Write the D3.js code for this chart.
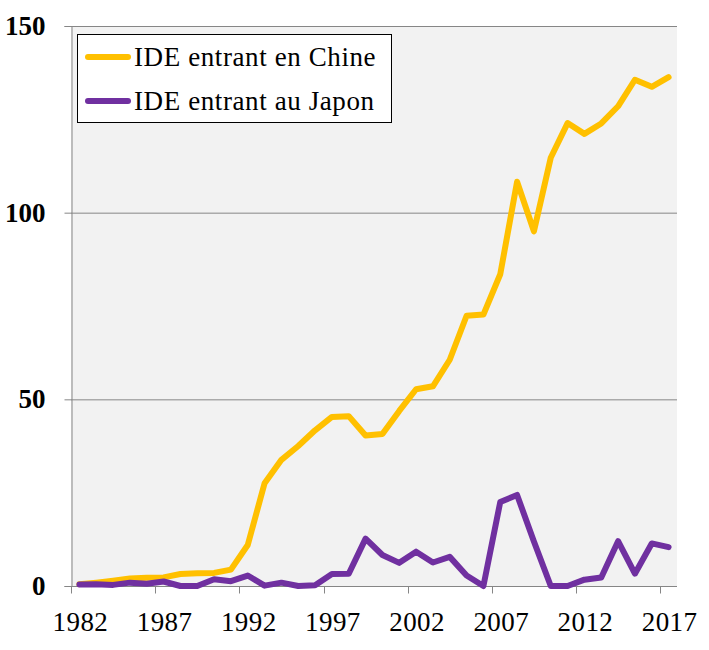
<!DOCTYPE html>
<html><head><meta charset="utf-8">
<script src="https://cdn.jsdelivr.net/npm/d3@7"></script>
<style>body{margin:0;background:#fff}svg{display:block}</style>
</head><body>
<script>
const years = d3.range(1982, 2018);
const chinaValues = [0.5,0.9,1.4,2.0,2.2,2.3,3.2,3.4,3.5,4.4,11.0,27.5,33.8,37.5,41.7,45.3,45.5,40.3,40.7,46.9,52.7,53.5,60.6,72.4,72.7,83.5,108.3,95.0,114.7,124.0,121.1,123.9,128.5,135.6,133.7,136.3];
const japanValues = [0.4,0.5,0.3,0.9,0.6,1.2,0.0,0.0,1.8,1.3,2.8,0.1,0.9,0.0,0.2,3.2,3.3,12.7,8.3,6.2,9.2,6.3,7.8,2.8,0.0,22.5,24.4,11.9,0.0,0.0,1.7,2.3,12.0,3.3,11.4,10.4];
const yTicks = [0,50,100,150];
const xTickLabels = [1982,1987,1992,1997,2002,2007,2012,2017];
const seriesNames = ["IDE entrant en Chine","IDE entrant au Japon"];
const seriesColors = ["#FFC000","#7030A0"];

const W=709,H=650;
const L=71,R=677,T=26,B=586;
const svg=d3.select("body").append("svg").attr("width",W).attr("height",H);
const font="Liberation Serif";

const x=d3.scaleBand().domain(years).range([L,R]).paddingInner(0).paddingOuter(0);
const y=d3.scaleLinear().domain([0,150]).range([B,T]);

svg.append("rect").attr("x",L).attr("y",T).attr("width",R-L).attr("height",B-T).attr("fill","#f2f2f2");

// gridlines
svg.append("g").selectAll("line").data(yTicks.filter(d=>d>0)).join("line")
  .attr("x1",L).attr("x2",R).attr("y1",d=>y(d)+0.5).attr("y2",d=>y(d)+0.5).attr("stroke","#868686").attr("stroke-width",1);

// y axis
const yAxis=svg.append("g").attr("transform",`translate(${L+0.5},0)`)
  .call(d3.axisLeft(y).tickValues(yTicks).tickSize(7).tickPadding(19).tickFormat(d3.format("d")));
yAxis.attr("font-family",null).attr("font-size",null);
yAxis.select(".domain").attr("stroke","#868686");
yAxis.selectAll(".tick line").attr("stroke","#868686");
yAxis.selectAll(".tick text").style("font-family",font).style("font-size","27px").style("font-weight","bold").attr("fill","#000");

// x axis
const xb=svg.append("g").attr("transform",`translate(0,${B+0.5})`);
xb.append("line").attr("x1",L).attr("x2",R).attr("stroke","#868686");
const tickYears=years.filter((d,i)=>i%5===0);
xb.selectAll("line.t").data(tickYears.concat([null])).join("line").attr("class","t")
  .attr("x1",(d,i)=>Math.round(L+i*5*x.bandwidth())+0.5).attr("x2",(d,i)=>Math.round(L+i*5*x.bandwidth())+0.5)
  .attr("y1",0).attr("y2",7).attr("stroke","#868686");
xb.selectAll("text").data(xTickLabels).join("text")
  .attr("x",d=>x(d)+x.bandwidth()/2+1).attr("y",44).attr("text-anchor","middle")
  .style("font-family",font).style("font-size","27px").style("letter-spacing","0.4px").attr("fill","#000").text(d=>d);

// lines
const line=d3.line().x((d,i)=>x(years[i])+x.bandwidth()/2).y(d=>y(d));
[chinaValues,japanValues].forEach((vals,k)=>{
  svg.append("path").datum(vals).attr("d",line).attr("fill","none")
    .attr("stroke",seriesColors[k]).attr("stroke-width",6)
    .attr("stroke-linejoin","round").attr("stroke-linecap","round");
});

// legend
const lg=svg.append("g");
lg.append("rect").attr("x",77.5).attr("y",34.5).attr("width",314).attr("height",88)
  .attr("fill","#fff").attr("stroke","#000").attr("stroke-width",1);
seriesNames.forEach((n,k)=>{
  const cy=57+k*44;
  lg.append("line").attr("x1",88).attr("x2",128).attr("y1",cy).attr("y2",cy)
    .attr("stroke",seriesColors[k]).attr("stroke-width",6).attr("stroke-linecap","round");
  lg.append("text").attr("x",134).attr("y",cy+9).style("font-family",font).style("font-size","27px")
    .style("letter-spacing","0.6px").attr("fill","#000").text(n);
});
</script>
</body></html>
